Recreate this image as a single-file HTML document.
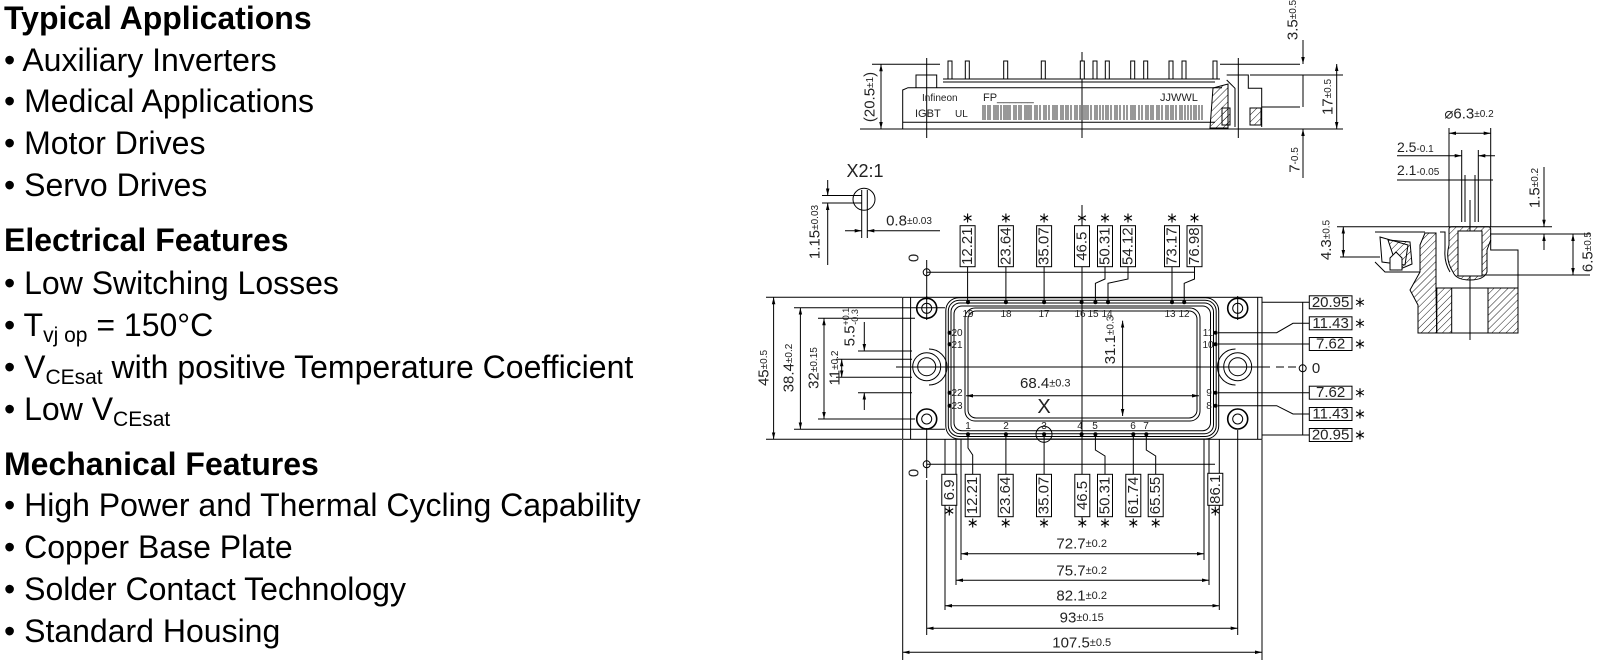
<!DOCTYPE html>
<html><head><meta charset="utf-8"><style>
html,body{margin:0;padding:0;background:#fff;}
svg{display:block;}
.t{font-family:"Liberation Sans",Arial,sans-serif;font-size:32px;fill:#000;}
.b{font-weight:bold;}
.d{font-family:"Liberation Sans Narrow","Liberation Sans",sans-serif;fill:#222;}
</style></head><body>
<svg width="1600" height="667" viewBox="0 0 1600 667" xmlns="http://www.w3.org/2000/svg">
<defs>
<marker id="a" viewBox="0 0 10 10" refX="10" refY="5" markerWidth="7" markerHeight="7" markerUnits="userSpaceOnUse" orient="auto-start-reverse"><path d="M0,2.5L10,5L0,7.5z" fill="#000"/></marker>
<pattern id="h" width="5" height="5" patternUnits="userSpaceOnUse" patternTransform="rotate(45)"><line x1="0" y1="0" x2="0" y2="5" stroke="#000" stroke-width="0.9"/></pattern>
<symbol id="s" viewBox="-5 -5 10 10"><path d="M0,-4.5V4.5M-3.9,-2.25L3.9,2.25M-3.9,2.25L3.9,-2.25" stroke="#000" stroke-width="1.1"/></symbol>
</defs>

<!-- Left text -->
<text class="t b" x="4" y="29">Typical Applications</text>
<text class="t" x="4" y="71">• Auxiliary Inverters</text>
<text class="t" x="4" y="112">• Medical Applications</text>
<text class="t" x="4" y="154">• Motor Drives</text>
<text class="t" x="4" y="196">• Servo Drives</text>
<text class="t b" x="4" y="251">Electrical Features</text>
<text class="t" x="4" y="294">• Low Switching Losses</text>
<text class="t" x="4" y="336">• T<tspan font-size="21" dy="6">vj op</tspan><tspan dy="-6"> = 150°C</tspan></text>
<text class="t" x="4" y="378">• V<tspan font-size="21" dy="6">CEsat</tspan><tspan dy="-6">  with positive Temperature Coefficient</tspan></text>
<text class="t" x="4" y="420">• Low V<tspan font-size="21" dy="6">CEsat</tspan></text>
<text class="t b" x="4" y="475">Mechanical Features</text>
<text class="t" x="4" y="516">• High Power and Thermal Cycling Capability</text>
<text class="t" x="4" y="558">• Copper Base Plate</text>
<text class="t" x="4" y="600">• Solder Contact Technology</text>
<text class="t" x="4" y="642">• Standard Housing</text>

<g stroke="#000" stroke-width="1" fill="none">
<!-- ===== Side view ===== -->
<path d="M902.7,129V90L908,87.7H1222"/>
<line x1="902.7" y1="122.3" x2="1215" y2="122.3"/>
<line x1="943" y1="79" x2="1220" y2="79"/>
<line x1="943" y1="82" x2="1215" y2="82"/>
<line x1="860" y1="129" x2="1343" y2="129"/>
<line x1="872" y1="64.3" x2="940" y2="64.3"/>
<line x1="1220" y1="64.3" x2="1300" y2="64.3"/>
<line x1="1250" y1="75" x2="1343" y2="75"/>
<line x1="1262" y1="107" x2="1300" y2="107"/>
<path d="M916,87.7V75H936.7V87.7"/>
<path d="M1226.7,75H1248.3V88.3H1261.7V127"/>
<path d="M1226.7,80L1235,88.3V127"/>
<path d="M1213,88L1228,84V128H1210Z" fill="url(#h)"/>
<rect x="1222" y="108" width="8" height="17" fill="url(#h)"/>
<rect x="1250" y="108" width="11" height="17" fill="url(#h)"/>
<line x1="926.7" y1="58" x2="926.7" y2="138"/>
<line x1="1238.3" y1="58" x2="1238.3" y2="138"/>
<line x1="1082" y1="52" x2="1082" y2="138"/>
<g fill="#fff">
<rect x="948" y="61" width="4" height="18"/><rect x="965.3" y="61" width="4" height="18"/><rect x="1003.7" y="61" width="4" height="18"/><rect x="1041.3" y="61" width="4" height="18"/><rect x="1080.3" y="61" width="4" height="18"/><rect x="1093" y="61" width="4" height="18"/><rect x="1105.3" y="61" width="4" height="18"/><rect x="1130.7" y="61" width="4" height="18"/><rect x="1143.7" y="61" width="4" height="18"/><rect x="1169" y="61" width="4" height="18"/><rect x="1182" y="61" width="4" height="18"/><rect x="1213" y="61" width="4" height="18"/>
</g>
<line x1="881" y1="64.3" x2="881" y2="129" marker-start="url(#a)" marker-end="url(#a)"/>
<line x1="1336.7" y1="64" x2="1336.7" y2="129" marker-start="url(#a)" marker-end="url(#a)"/>
<line x1="1303" y1="40" x2="1303" y2="64" marker-end="url(#a)"/>
<line x1="1303" y1="75" x2="1303" y2="107"/>
<line x1="1303" y1="129" x2="1303" y2="178" marker-start="url(#a)"/>
<!-- barcode -->
<path d="M983,105V120M985,105V120M988,105V120M990,105V120M994,105V120M996,105V120M998,105V120M1001,105V120M1004,105V120M1006,105V120M1008,105V120M1010,105V120M1014,105V120M1016,105V120M1019,105V120M1021,105V120M1025,105V120M1027,105V120M1029,105V120M1031,105V120M1035,105V120M1037,105V120M1040,105V120M1044,105V120M1046,105V120M1049,105V120M1053,105V120M1055,105V120M1057,105V120M1061,105V120M1063,105V120M1066,105V120M1068,105V120M1071,105V120M1075,105V120M1077,105V120M1080,105V120M1084,105V120M1086,105V120M1088,105V120M1091,105V120M1095,105V120M1097,105V120M1100,105V120M1103,105V120M1106,105V120M1108,105V120M1111,105V120M1115,105V120M1117,105V120M1120,105V120M1124,105V120M1127,105V120M1131,105V120M1133,105V120M1135,105V120M1139,105V120M1142,105V120M1146,105V120M1148,105V120M1151,105V120M1153,105V120M1157,105V120M1159,105V120M1162,105V120M1166,105V120M1168,105V120M1171,105V120M1173,105V120M1176,105V120M1180,105V120M1182,105V120M1185,105V120M1188,105V120M1191,105V120M1194,105V120M1196,105V120M1199,105V120M1202,105V120" stroke-width="0.8"/>

<!-- ===== X2:1 detail ===== -->
<circle cx="864" cy="199.3" r="11"/>
<line x1="861.7" y1="190" x2="861.7" y2="238"/>
<line x1="867.3" y1="190" x2="867.3" y2="238"/>
<line x1="822" y1="195.5" x2="862" y2="195.5"/>
<line x1="822" y1="203" x2="862" y2="203"/>
<line x1="827.7" y1="180" x2="827.7" y2="195.5" marker-end="url(#a)"/>
<line x1="827.7" y1="203" x2="827.7" y2="265" marker-start="url(#a)"/>
<line x1="845" y1="230.7" x2="861.7" y2="230.7" marker-end="url(#a)"/>
<line x1="867.3" y1="230.7" x2="940" y2="230.7" marker-start="url(#a)"/>

<!-- ===== Main module ===== -->
<rect x="902.7" y="297.3" width="359.3" height="142"/>
<line x1="910.6" y1="297.3" x2="910.6" y2="439.3"/>
<line x1="1257.7" y1="297.3" x2="1257.7" y2="439.3"/>
<rect x="945.8" y="297.7" width="272.9" height="141.3" rx="13"/>
<rect x="948.3" y="300.2" width="267.9" height="136.3" rx="11"/>
<rect x="951" y="303" width="262.5" height="130.7" rx="9"/>
<rect x="954" y="306" width="256.5" height="124.7" rx="8"/>
<rect x="965" y="308" width="235" height="113" rx="10"/>
<rect x="968" y="311" width="229" height="107" rx="8"/>
<!-- holes -->
<circle cx="926.7" cy="308.3" r="10" stroke-width="1.6"/><circle cx="926.7" cy="308.3" r="5"/>
<circle cx="926.7" cy="419" r="10" stroke-width="1.6"/><circle cx="926.7" cy="419" r="5"/>
<circle cx="1237.7" cy="308.3" r="10" stroke-width="1.6"/><circle cx="1237.7" cy="308.3" r="5"/>
<circle cx="1237.7" cy="419" r="10" stroke-width="1.6"/><circle cx="1237.7" cy="419" r="5"/>
<circle cx="926.7" cy="366.7" r="14"/><circle cx="926.7" cy="366.7" r="9"/>
<circle cx="1237.7" cy="366.7" r="14"/><circle cx="1237.7" cy="366.7" r="9"/>
<path d="M929,349A18,18 0 0 1 929,385"/>
<path d="M1235.5,349A18,18 0 0 0 1235.5,385"/>
<line x1="926.7" y1="296" x2="926.7" y2="320"/>
<line x1="1237.7" y1="296" x2="1237.7" y2="320"/>
<!-- center lines -->
<line x1="896" y1="367" x2="1270" y2="367"/>
<line x1="1276" y1="367" x2="1300" y2="367" stroke-dasharray="8,4"/>
<line x1="1082" y1="205" x2="1082" y2="520"/>
<line x1="926.7" y1="260" x2="926.7" y2="300"/>
<line x1="926.7" y1="428" x2="926.7" y2="478"/>

<!-- left dims -->
<line x1="766" y1="297.3" x2="902" y2="297.3"/>
<line x1="766" y1="439.3" x2="902" y2="439.3"/>
<line x1="773.6" y1="297.3" x2="773.6" y2="439.3" marker-start="url(#a)" marker-end="url(#a)"/>
<line x1="794" y1="307.7" x2="945" y2="307.7"/>
<line x1="794" y1="429.3" x2="945" y2="429.3"/>
<line x1="800.4" y1="307.7" x2="800.4" y2="429.3" marker-start="url(#a)" marker-end="url(#a)"/>
<line x1="818" y1="318.3" x2="915" y2="318.3"/>
<line x1="818" y1="419" x2="915" y2="419"/>
<line x1="824" y1="318.3" x2="824" y2="419" marker-start="url(#a)" marker-end="url(#a)"/>
<line x1="836" y1="359.3" x2="912" y2="359.3"/>
<line x1="836" y1="377.3" x2="912" y2="377.3"/>
<line x1="841.7" y1="359.3" x2="841.7" y2="377.3" marker-start="url(#a)" marker-end="url(#a)"/>
<line x1="858" y1="351" x2="912" y2="351"/>
<line x1="858" y1="392.7" x2="912" y2="392.7"/>
<line x1="864.3" y1="322" x2="864.3" y2="351" marker-end="url(#a)"/>
<line x1="864.3" y1="392.7" x2="864.3" y2="410" marker-start="url(#a)"/>
<!-- inner dims -->
<line x1="1122.6" y1="320.7" x2="1122.6" y2="416" marker-start="url(#a)" marker-end="url(#a)"/>
<line x1="966" y1="395.7" x2="1199" y2="395.7" marker-start="url(#a)" marker-end="url(#a)"/>
<circle cx="1044" cy="434.3" r="8"/>

<!-- top dim line -->
<circle cx="926.7" cy="272.3" r="3.5"/>
<line x1="926.7" y1="272.3" x2="1194.5" y2="272.3"/>
<g fill="#fff">
<rect x="960.1" y="225.7" width="15" height="41"/><rect x="998.4" y="225.7" width="15" height="41"/><rect x="1036.6" y="225.7" width="15" height="41"/><rect x="1074.5" y="225.7" width="15" height="41"/><rect x="1097.5" y="225.7" width="15" height="41"/><rect x="1120.5" y="225.7" width="15" height="41"/><rect x="1164.5" y="225.7" width="15" height="41"/><rect x="1187" y="225.7" width="15" height="41"/>
</g>
<path d="M967.6,266.7V302M1005.9,266.7V302M1044.1,266.7V302M1172,266.7V302M1105,266.7V279L1095.4,283.3V302M1128,266.7V279L1108,283.3V302M1194.5,266.7V279L1184.2,283.3V302"/>

<!-- bottom dims -->
<circle cx="926.7" cy="464.3" r="3.5"/>
<line x1="926.7" y1="464.3" x2="1215" y2="464.3"/>
<path d="M945,439V580M956,439V585M961,439V560M1204,439V560M1209,439V585M1219.3,439V610M926.7,480V635M1237.7,430V635M902.7,440V660M1262,440V660"/>
<path d="M945,500V610"/>
<g fill="#fff">
<rect x="941.8" y="474.3" width="15" height="31"/><rect x="965.2" y="474.3" width="15" height="42.4"/><rect x="998.2" y="474.3" width="15" height="42.4"/><rect x="1036.5" y="474.3" width="15" height="42.4"/><rect x="1074.8" y="474.3" width="15" height="42.4"/><rect x="1097.5" y="474.3" width="15" height="42.4"/><rect x="1125.8" y="474.3" width="15" height="42.4"/><rect x="1148.2" y="474.3" width="15" height="42.4"/><rect x="1207.8" y="473.3" width="15" height="32"/>
</g>
<path d="M968,434V448L972.7,455V474.3M1005.9,434V474.3M1044.1,434V474.3M1095.4,434V450L1105,456V474.3M1133.3,434V474.3M1146.3,434V450L1155.7,456V474.3"/>
<line x1="961" y1="553.7" x2="1204" y2="553.7" marker-start="url(#a)" marker-end="url(#a)"/>
<line x1="956" y1="580.3" x2="1209" y2="580.3" marker-start="url(#a)" marker-end="url(#a)"/>
<line x1="945" y1="605.7" x2="1219.3" y2="605.7" marker-start="url(#a)" marker-end="url(#a)"/>
<line x1="926.7" y1="628.3" x2="1237.7" y2="628.3" marker-start="url(#a)" marker-end="url(#a)"/>
<line x1="902.7" y1="652.3" x2="1262" y2="652.3" marker-start="url(#a)" marker-end="url(#a)"/>

<!-- right boxes -->
<line x1="1302.7" y1="302.3" x2="1302.7" y2="435"/>
<circle cx="1302.7" cy="368.3" r="3.5"/>
<g fill="#fff">
<rect x="1309.3" y="295.8" width="42.7" height="13"/><rect x="1309.3" y="316.8" width="42.7" height="13"/><rect x="1309.3" y="337.5" width="42.7" height="13"/><rect x="1309.3" y="386.2" width="42.7" height="13"/><rect x="1309.3" y="407.5" width="42.7" height="13"/><rect x="1309.3" y="428.5" width="42.7" height="13"/>
</g>
<path d="M1262,302.3H1309.3M1218,332.7H1276.7L1293,323.3H1309.3M1218,344H1309.3M1218,392.7H1309.3M1218,405.7H1276.7L1293,414H1309.3M1262,435H1309.3"/>

<!-- ===== right section detail ===== -->
<line x1="1449" y1="133.3" x2="1490.7" y2="133.3" marker-start="url(#a)" marker-end="url(#a)"/>
<line x1="1449" y1="128" x2="1449" y2="227"/>
<line x1="1490.7" y1="128" x2="1490.7" y2="227"/>
<line x1="1397" y1="155.7" x2="1461.7" y2="155.7" marker-end="url(#a)"/>
<line x1="1478.3" y1="155.7" x2="1495" y2="155.7" marker-start="url(#a)"/>
<line x1="1397" y1="180" x2="1461.7" y2="180"/>
<line x1="1461.7" y1="180" x2="1493" y2="180"/>
<line x1="1461.7" y1="150" x2="1461.7" y2="222"/>
<line x1="1478.3" y1="150" x2="1478.3" y2="222"/>
<line x1="1465" y1="175" x2="1465" y2="222"/>
<line x1="1475" y1="175" x2="1475" y2="222"/>
<line x1="1470" y1="200" x2="1470" y2="340"/>
<line x1="1544" y1="167" x2="1544" y2="226.7" marker-end="url(#a)"/>
<line x1="1544" y1="234" x2="1544" y2="250" marker-start="url(#a)"/>
<line x1="1337" y1="226.7" x2="1552" y2="226.7"/>
<line x1="1490" y1="234" x2="1590" y2="234"/>
<line x1="1470" y1="275" x2="1590" y2="275"/>
<line x1="1340" y1="257" x2="1380" y2="257"/>
<line x1="1343.3" y1="226.7" x2="1343.3" y2="257" marker-start="url(#a)" marker-end="url(#a)"/>
<line x1="1573" y1="234" x2="1573" y2="275" marker-start="url(#a)" marker-end="url(#a)"/>
<path d="M1449,229Q1449,226.7 1452,226.7H1488Q1490.7,226.7 1490.7,229V240L1487,250V272Q1484,280 1470,280Q1456,280 1453,272Q1445,260 1449,245Z" fill="url(#h)"/>
<rect x="1458" y="231" width="24" height="45" fill="#fff" stroke="#000"/>
<path d="M1490.7,240V250H1518V292"/>
<path d="M1440,232H1445V250Q1444,262 1450,272"/>
<rect x="1436.7" y="288" width="81.3" height="45"/>
<rect x="1436.7" y="288" width="15" height="45" fill="url(#h)"/>
<rect x="1488" y="288" width="30" height="45" fill="url(#h)"/>
<path d="M1425,233H1436V288L1436.7,333H1418V305L1410,290L1420,272V245Z" fill="url(#h)"/>
<path d="M1375,232H1425M1380,237L1408,245L1405,265L1382,262Z" fill="none"/>
<path d="M1388,240L1410,242L1412,264L1398,270Z" fill="url(#h)"/>
<path d="M1390,258L1396,252L1402,258V270H1390Z" fill="#fff"/>
<path d="M1375,262L1385,272H1420"/>
</g>

<!-- asterisks -->
<g>
<use href="#s" x="962.6" y="213" width="10" height="10"/><use href="#s" x="1000.9" y="213" width="10" height="10"/><use href="#s" x="1039.1" y="213" width="10" height="10"/><use href="#s" x="1077" y="213" width="10" height="10"/><use href="#s" x="1100" y="213" width="10" height="10"/><use href="#s" x="1123" y="213" width="10" height="10"/><use href="#s" x="1167" y="213" width="10" height="10"/><use href="#s" x="1189.5" y="213" width="10" height="10"/>
<use href="#s" x="944.3" y="506" width="10" height="10"/><use href="#s" x="967.7" y="518" width="10" height="10"/><use href="#s" x="1000.7" y="518" width="10" height="10"/><use href="#s" x="1039" y="518" width="10" height="10"/><use href="#s" x="1077.3" y="518" width="10" height="10"/><use href="#s" x="1100" y="518" width="10" height="10"/><use href="#s" x="1128.3" y="518" width="10" height="10"/><use href="#s" x="1150.7" y="518" width="10" height="10"/><use href="#s" x="1210.3" y="506" width="10" height="10"/>
<use href="#s" x="1355" y="297.3" width="10" height="10"/><use href="#s" x="1355" y="318.3" width="10" height="10"/><use href="#s" x="1355" y="339" width="10" height="10"/><use href="#s" x="1355" y="387.7" width="10" height="10"/><use href="#s" x="1355" y="409" width="10" height="10"/><use href="#s" x="1355" y="430" width="10" height="10"/>
</g>
<!-- pin dots -->
<g fill="#000">
<circle cx="968" cy="302.3" r="2"/><circle cx="1005.9" cy="302.3" r="2"/><circle cx="1044.1" cy="302.3" r="2"/><circle cx="1081.6" cy="302.3" r="2"/><circle cx="1095.4" cy="302.3" r="2"/><circle cx="1108" cy="302.3" r="2"/><circle cx="1172" cy="302.3" r="2"/><circle cx="1184.2" cy="302.3" r="2"/>
<circle cx="968" cy="434.3" r="2"/><circle cx="1005.9" cy="434.3" r="2"/><circle cx="1044.1" cy="434.3" r="2"/><circle cx="1081.6" cy="434.3" r="2"/><circle cx="1095.4" cy="434.3" r="2"/><circle cx="1133.3" cy="434.3" r="2"/><circle cx="1146.3" cy="434.3" r="2"/>
<circle cx="949.6" cy="332.7" r="2"/><circle cx="949.6" cy="344.3" r="2"/><circle cx="949.6" cy="392.7" r="2"/><circle cx="949.6" cy="405.7" r="2"/>
<circle cx="1215.6" cy="332.7" r="2"/><circle cx="1215.6" cy="344.3" r="2"/><circle cx="1215.6" cy="392.7" r="2"/><circle cx="1215.6" cy="405.7" r="2"/>
</g>

<!-- drawing text -->
<g class="d" font-size="15">
<g text-anchor="middle" dominant-baseline="central">
<text transform="translate(967.6,246.2) rotate(-90)">12.21</text>
<text transform="translate(1005.9,246.2) rotate(-90)">23.64</text>
<text transform="translate(1044.1,246.2) rotate(-90)">35.07</text>
<text transform="translate(1082,246.2) rotate(-90)">46.5</text>
<text transform="translate(1105,246.2) rotate(-90)">50.31</text>
<text transform="translate(1128,246.2) rotate(-90)">54.12</text>
<text transform="translate(1172,246.2) rotate(-90)">73.17</text>
<text transform="translate(1194.5,246.2) rotate(-90)">76.98</text>
<text transform="translate(949.3,489.8) rotate(-90)">6.9</text>
<text transform="translate(972.7,495.5) rotate(-90)">12.21</text>
<text transform="translate(1005.7,495.5) rotate(-90)">23.64</text>
<text transform="translate(1044,495.5) rotate(-90)">35.07</text>
<text transform="translate(1082.3,495.5) rotate(-90)">46.5</text>
<text transform="translate(1105,495.5) rotate(-90)">50.31</text>
<text transform="translate(1133.3,495.5) rotate(-90)">61.74</text>
<text transform="translate(1155.7,495.5) rotate(-90)">65.55</text>
<text transform="translate(1215.3,489.3) rotate(-90)">86.1</text>
<text transform="translate(914,258) rotate(-90)">0</text>
<text transform="translate(914,473) rotate(-90)">0</text>
<text transform="translate(764,368) rotate(-90)">45<tspan font-size="10">±0.5</tspan></text>
<text transform="translate(789,368) rotate(-90)">38.4<tspan font-size="10">±0.2</tspan></text>
<text transform="translate(813.8,368) rotate(-90)">32<tspan font-size="10">±0.15</tspan></text>
<text transform="translate(834.8,368) rotate(-90)">11<tspan font-size="10">±0.2</tspan></text>
<text transform="translate(850,327) rotate(-90)">5.5<tspan font-size="9" dy="-4">+0.1</tspan><tspan font-size="9" dx="-17" dy="9">-0.3</tspan></text>
<text transform="translate(1110.4,340) rotate(-90)">31.1<tspan font-size="10">±0.3</tspan></text>
<text transform="translate(870,97) rotate(-90)">(20.5<tspan font-size="10">±1</tspan>)</text>
<text transform="translate(1293,20) rotate(-90)">3.5<tspan font-size="10">±0.5</tspan></text>
<text transform="translate(1328,97) rotate(-90)">17<tspan font-size="10">±0.5</tspan></text>
<text transform="translate(1295,160) rotate(-90)">7<tspan font-size="10">-0.5</tspan></text>
<text transform="translate(815,232) rotate(-90)">1.15<tspan font-size="10">±0.03</tspan></text>
<text transform="translate(1535,188) rotate(-90)">1.5<tspan font-size="10">±0.2</tspan></text>
<text transform="translate(1326.7,240) rotate(-90)">4.3<tspan font-size="10">±0.5</tspan></text>
<text transform="translate(1588,252) rotate(-90)">6.5<tspan font-size="10">±0.5</tspan></text>
<text x="1081.7" y="544">72.7<tspan font-size="11">±0.2</tspan></text>
<text x="1081.7" y="571">75.7<tspan font-size="11">±0.2</tspan></text>
<text x="1081.7" y="596">82.1<tspan font-size="11">±0.2</tspan></text>
<text x="1081.7" y="618">93<tspan font-size="11">±0.15</tspan></text>
<text x="1081.7" y="643">107.5<tspan font-size="11">±0.5</tspan></text>
<text x="1045.3" y="383.3">68.4<tspan font-size="11">±0.3</tspan></text>
<text x="909" y="221">0.8<tspan font-size="10">±0.03</tspan></text>
<text x="1469" y="114">⌀6.3<tspan font-size="10">±0.2</tspan></text>
<text x="865" y="171" font-size="18">X2:1</text>
<text x="1044" y="407" font-size="20">X</text>
<text x="1330.6" y="302.3">20.95</text>
<text x="1330.6" y="323.3">11.43</text>
<text x="1330.6" y="344">7.62</text>
<text x="1330.6" y="392.7">7.62</text>
<text x="1330.6" y="414">11.43</text>
<text x="1330.6" y="435">20.95</text>
<text x="1316" y="368.3">0</text>
</g>
<text x="1397" y="152" font-size="14">2.5<tspan font-size="10">-0.1</tspan></text>
<text x="1397" y="175" font-size="14">2.1<tspan font-size="10">-0.05</tspan></text>
<g font-size="10" text-anchor="middle">
<text x="968" y="317">19</text><text x="1006" y="317">18</text><text x="1044" y="317">17</text><text x="1080" y="317">16</text><text x="1093" y="317">15</text><text x="1107" y="317">14</text><text x="1170" y="317">13</text><text x="1184" y="317">12</text>
<text x="968" y="429">1</text><text x="1006" y="429">2</text><text x="1044" y="429">3</text><text x="1080" y="429">4</text><text x="1095" y="429">5</text><text x="1133" y="429">6</text><text x="1146" y="429">7</text>
<text x="957" y="336">20</text><text x="957" y="348">21</text><text x="957" y="396">22</text><text x="957" y="409">23</text>
<text x="1208" y="336">11</text><text x="1208" y="348">10</text><text x="1209" y="396">9</text><text x="1209" y="409">8</text>
</g>
<g font-size="10">
<text x="922" y="101">Infineon</text>
<text x="983" y="101" font-size="11">FP______</text>
<text x="1160" y="101" font-size="11">JJWWL</text>
<text x="915" y="117" font-size="11">IGBT</text>
<text x="955" y="117">UL</text>
</g>
</g>
</svg>
</body></html>
